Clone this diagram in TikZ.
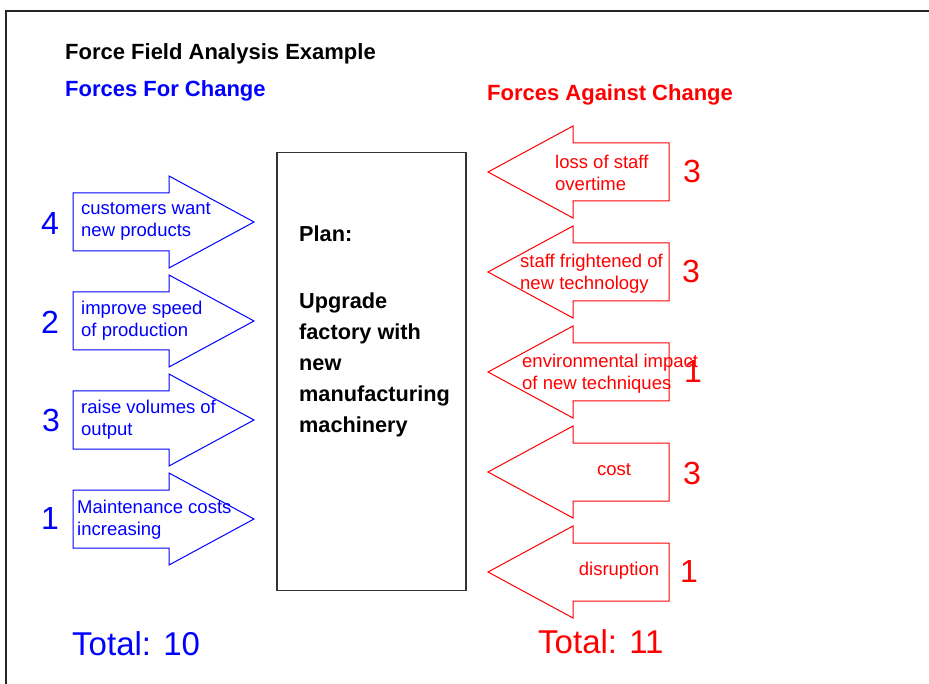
\documentclass[tikz,border=0pt]{standalone}
\usepackage{fontspec}
\setmainfont{Liberation Sans}
\begin{document}
\begin{tikzpicture}[x=1pt,y=-1pt,
  forline/.style={draw=blue, line width=1pt, line join=miter},
  againstline/.style={draw=red, line width=1pt, line join=miter},
  small/.style={font=\fontsize{18.5}{22}\selectfont, inner sep=0pt, align=left},
  head/.style={font=\bfseries\fontsize{22}{26}\selectfont, inner sep=0pt, anchor=base west},
  big/.style={font=\fontsize{32}{36}\selectfont, inner sep=0pt},
  forarrow/.pic={\draw[forline] (73,-29) -- (169,-29) -- (169,-46) -- (254,0) -- (169,46) -- (169,29) -- (73,29) -- cycle;},
  againstarrow/.pic={\draw[againstline] (669,-29) -- (573,-29) -- (573,-46) -- (488,0) -- (573,46) -- (573,29) -- (669,29) -- cycle;}
]
\useasboundingbox (0,0) rectangle (929,684);
\fill[white] (0,0) rectangle (929,684);
\draw[line width=1.5pt, black!85] (6,690) -- (6,11) -- (935,11);

% headings
\node[head] (title) at (65,60) {Force Field Analysis Example};
\node[head, text=blue] (forhead) at (65,97) {Forces For Change};
\node[head, text=red] (againsthead) at (487,101) {Forces Against Change};

% centre box
\node[draw=black!80, line width=1.8pt, minimum width=189pt, minimum height=438pt, inner sep=0pt] (planbox) at (371.2,371.5) {};
\node[font=\bfseries\fontsize{21.7}{31}\selectfont, inner sep=0pt, anchor=north west, align=left] (plantext) at (299,225.5)
  {Plan:\\[36pt]Upgrade\\factory with\\new\\manufacturing\\machinery};

% forces for change
\pic (fa1) at (0,222) {forarrow};
\pic (fa2) at (0,321) {forarrow};
\pic (fa3) at (0,420) {forarrow};
\pic (fa4) at (0,519) {forarrow};
\node[small, text=blue, anchor=west] (ft1) at (81,221) {customers want\\new products};
\node[small, text=blue, anchor=west] (ft2) at (81,321) {improve speed\\of production};
\node[small, text=blue, anchor=west] (ft3) at (81,419.5) {raise volumes of\\output};
\node[small, text=blue, anchor=west] (ft4) at (77,519.5) {Maintenance costs\\increasing};
\node[big, text=blue] (fn1) at (50,223.5) {4};
\node[big, text=blue] (fn2) at (50,322.5) {2};
\node[big, text=blue] (fn3) at (51,420.5) {3};
\node[big, text=blue] (fn4) at (50,518.5) {1};

% forces against change
\pic (aa1) at (0,172) {againstarrow};
\pic (aa2) at (0,272) {againstarrow};
\pic (aa3) at (0,372) {againstarrow};
\pic (aa4) at (0,472) {againstarrow};
\pic (aa5) at (0,572) {againstarrow};
\node[small, text=red, anchor=west] (at1) at (555,173) {loss of staff\\overtime};
\node[small, text=red, anchor=west] (at2) at (520,273.5) {staff frightened of\\new technology};
\node[small, text=red, anchor=west] (at3) at (522,374) {environmental impact\\of new techniques};
\node[small, text=red] (at4) at (614,470) {cost};
\node[small, text=red] (at5) at (619,571) {disruption};
\node[big, text=red] (an1) at (692,171) {3};
\node[big, text=red] (an2) at (691,271) {3};
\node[big, text=red] (an3) at (693,371) {1};
\node[big, text=red] (an4) at (692,473) {3};
\node[big, text=red] (an5) at (689,571) {1};

% totals
\node[font=\fontsize{33}{38}\selectfont, inner sep=0pt, anchor=base west, text=blue] (fortotal) at (72,655) {Total: 10};
\node[font=\fontsize{33}{38}\selectfont, inner sep=0pt, anchor=base west, text=red] (againsttotal) at (538,653) {Total: 11};
\end{tikzpicture}
\end{document}
